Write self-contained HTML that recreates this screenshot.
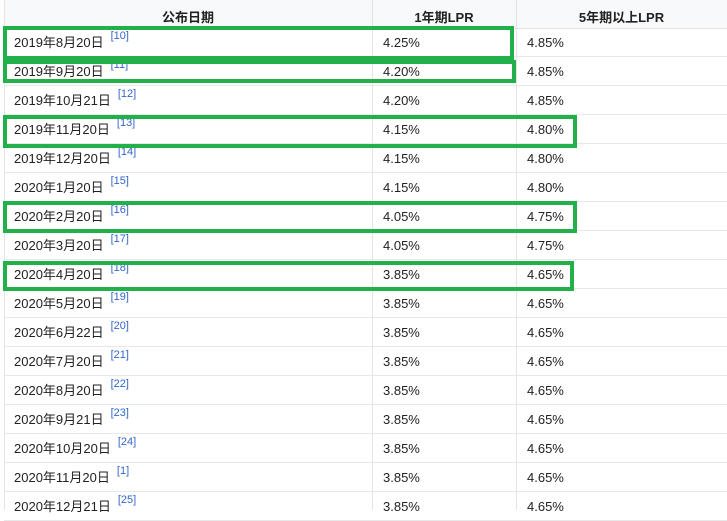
<!DOCTYPE html>
<html><head><meta charset="utf-8"><style>
body{margin:0;width:727px;height:510px;overflow:hidden;background:#fff;font-family:"Liberation Sans","Noto Sans CJK SC",sans-serif;font-size:13px;color:#222;position:relative}
.hd{position:absolute;left:4px;top:0;width:723px;height:28px;background:#f8f9fa;border-bottom:1px solid #e4e4e4}
.hd div{position:absolute;top:7px;font-weight:bold;text-align:center}
.row{position:absolute;left:4px;width:723px;height:28px;border-bottom:1px solid #e8e8e8}
.c{position:absolute;top:7px;line-height:16px;white-space:nowrap}
sup{color:#3366cc;font-size:11px;line-height:0;vertical-align:0;position:relative;top:-8px;margin-left:7px}
.vl{position:absolute;top:0;width:1px;height:510px;background:#e4e4e4}
.g{position:absolute;border:4px solid #22b04b;box-sizing:border-box}
</style></head><body>
<div class="hd"><div style="left:0;width:368px">公布日期</div><div style="left:368px;width:144px">1年期LPR</div><div style="left:512px;width:211px">5年期以上LPR</div></div>
<div id="rows"></div>
<div class="vl" style="left:4px"></div><div class="vl" style="left:372px"></div><div class="vl" style="left:516px"></div>
<script>
var d=[["2019年8月20日","10","4.25%","4.85%"],["2019年9月20日","11","4.20%","4.85%"],["2019年10月21日","12","4.20%","4.85%"],["2019年11月20日","13","4.15%","4.80%"],["2019年12月20日","14","4.15%","4.80%"],["2020年1月20日","15","4.15%","4.80%"],["2020年2月20日","16","4.05%","4.75%"],["2020年3月20日","17","4.05%","4.75%"],["2020年4月20日","18","3.85%","4.65%"],["2020年5月20日","19","3.85%","4.65%"],["2020年6月22日","20","3.85%","4.65%"],["2020年7月20日","21","3.85%","4.65%"],["2020年8月20日","22","3.85%","4.65%"],["2020年9月21日","23","3.85%","4.65%"],["2020年10月20日","24","3.85%","4.65%"],["2020年11月20日","1","3.85%","4.65%"],["2020年12月21日","25","3.85%","4.65%"]];
var h="";d.forEach(function(r,i){h+='<div class="row" style="top:'+(28+i*29)+'px"><span class="c" style="left:10px">'+r[0]+'<sup>['+r[1]+']</sup></span><span class="c" style="left:379px">'+r[2]+'</span><span class="c" style="left:523px">'+r[3]+'</span></div>';});
document.getElementById("rows").innerHTML=h;
</script>
<div class="g" style="left:3px;top:26px;width:511px;height:34px"></div>
<div class="g" style="left:3px;top:60px;width:513px;height:23px"></div>
<div class="g" style="left:3px;top:115px;width:574px;height:33px"></div>
<div class="g" style="left:3px;top:201px;width:574px;height:32px"></div>
<div class="g" style="left:3px;top:261px;width:571px;height:30px"></div>
</body></html>
